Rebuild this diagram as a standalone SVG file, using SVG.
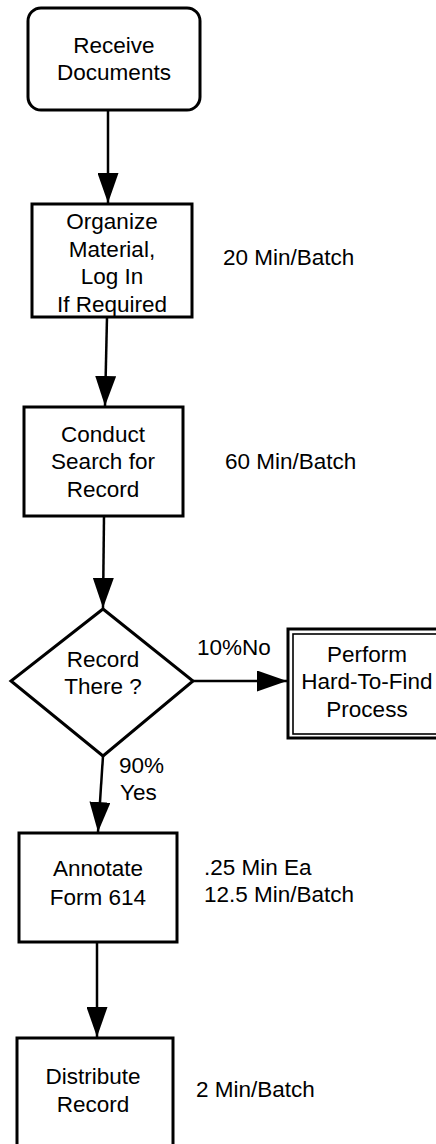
<svg xmlns="http://www.w3.org/2000/svg" width="436" height="1144" viewBox="0 0 436 1144">
<style>
  .box { fill: #ffffff; stroke: #000000; stroke-width: 3; }
  .thin { fill: none; stroke: #000000; stroke-width: 1.6; }
  .conn { fill: none; stroke: #000000; stroke-width: 2.5; marker-end: url(#ah); }
  text { font-family: "Liberation Sans", Arial, Helvetica, sans-serif; font-size: 22.5px; fill: #000000; }
  .c { text-anchor: middle; }
</style>
<defs>
  <marker id="ah" markerUnits="userSpaceOnUse" markerWidth="31" markerHeight="21" refX="30" refY="10.5" orient="auto">
    <path d="M0,0 L30,10.5 L0,21 Z" fill="#000000"/>
  </marker>
</defs>
<rect width="436" height="1144" fill="#ffffff"/>

<g id="connectors">
  <line class="conn" x1="108" y1="110" x2="108" y2="203"/>
  <line class="conn" x1="107" y1="317" x2="105" y2="406"/>
  <line class="conn" x1="104" y1="516" x2="103" y2="608"/>
  <line class="conn" x1="193" y1="681" x2="287" y2="681"/>
  <line class="conn" x1="103" y1="756" x2="98" y2="832"/>
  <line class="conn" x1="97" y1="942" x2="97" y2="1037"/>
</g>

<g id="receive">
  <rect class="box" x="28" y="8" width="172" height="102" rx="13" ry="13"/>
  <text class="c" x="114" y="53">Receive</text>
  <text class="c" x="114" y="80">Documents</text>
</g>

<g id="organize">
  <rect class="box" x="32" y="204" width="160" height="113"/>
  <text class="c" x="112" y="229">Organize</text>
  <text class="c" x="112" y="257">Material,</text>
  <text class="c" x="112" y="284">Log In</text>
  <text class="c" x="112" y="312">If Required</text>
</g>
<g id="organize-time">
  <text x="223" y="265">20 Min/Batch</text>
</g>

<g id="search">
  <rect class="box" x="24" y="407" width="159" height="109"/>
  <text class="c" x="103" y="442">Conduct</text>
  <text class="c" x="103" y="469">Search for</text>
  <text class="c" x="103" y="497">Record</text>
</g>
<g id="search-time">
  <text x="225" y="469">60 Min/Batch</text>
</g>

<g id="decision">
  <polygon class="box" points="103,609 193,681 103,756 11,681"/>
  <text class="c" x="103" y="667">Record</text>
  <text class="c" x="103" y="694">There ?</text>
</g>
<g id="no-label">
  <text x="197" y="655">10%No</text>
</g>

<g id="hardtofind">
  <rect class="box" x="288" y="629" width="160" height="109"/>
  <rect class="thin" x="293" y="634" width="160" height="100"/>
  <text class="c" x="367" y="662">Perform</text>
  <text class="c" x="367" y="689">Hard-To-Find</text>
  <text class="c" x="367" y="717">Process</text>
</g>

<g id="yes-label">
  <text x="119" y="773">90%</text>
  <text x="120" y="800">Yes</text>
</g>

<g id="annotate">
  <rect class="box" x="19" y="833" width="158" height="109"/>
  <text class="c" x="98" y="876">Annotate</text>
  <text class="c" x="98" y="905">Form 614</text>
</g>
<g id="annotate-time">
  <text x="204" y="875">.25 Min Ea</text>
  <text x="204" y="902">12.5 Min/Batch</text>
</g>

<g id="distribute">
  <rect class="box" x="17" y="1038" width="156" height="120"/>
  <text class="c" x="93" y="1084">Distribute</text>
  <text class="c" x="93" y="1112">Record</text>
</g>
<g id="distribute-time">
  <text x="196" y="1097">2 Min/Batch</text>
</g>
</svg>
